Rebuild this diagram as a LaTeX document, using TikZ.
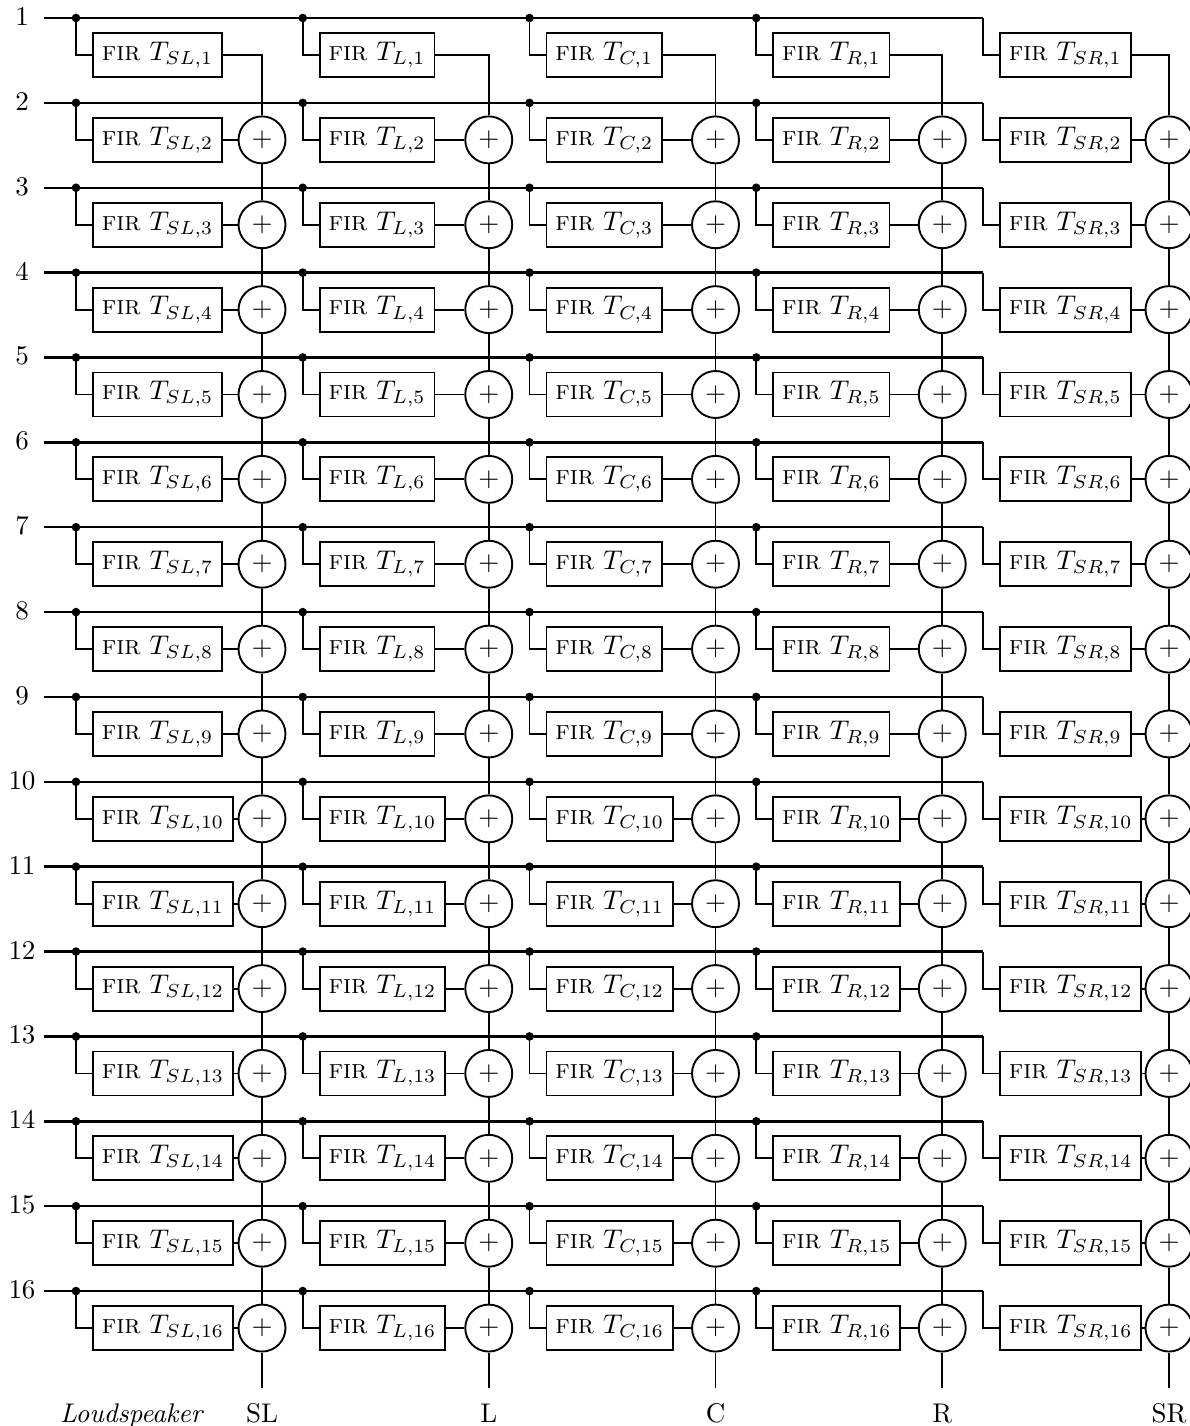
\documentclass[tikz,border=0pt]{standalone}
\begin{document}
\begin{tikzpicture}[x=0.3704pt,y=-0.3704pt,
  bus/.style={line width=0.9pt},
  wire/.style={line width=0.7pt},
  firbox/.style={draw, line width=0.7pt, anchor=west, minimum height=16.3pt, inner xsep=3.3pt, inner ysep=0pt},
  sumnode/.style={draw, circle, line width=0.7pt, minimum size=17.4pt, inner sep=0pt},
  jdot/.style={circle, fill, inner sep=0pt, minimum size=3.2pt},
  rowlab/.style={anchor=base},
  spklab/.style={anchor=base}]
\useasboundingbox (0,0) rectangle (1190,1426);
% input buses
\foreach \i in {1,...,16} {
  \pgfmathsetmacro\yy{18+(\i-1)*84.87}
  \node[rowlab] (n\i) at (22,\yy+7.5) {\i};
  \coordinate (bs\i) at (44,\yy);
  \coordinate (be\i) at (983,\yy);
  \draw[bus] (bs\i) -- (be\i);
}
% columns
\foreach \c [count=\k from 0] in {SL,L,C,R,SR} {
  \pgfmathsetmacro\xo{226.75*\k}
  \foreach \i in {1,...,16} {
    \pgfmathsetmacro\yy{18+(\i-1)*84.87}
    \pgfmathsetmacro\yb{\yy+37}
    \coordinate (d\c\i) at (76+\xo,\yy);
    \node[firbox] (f\c\i) at (92+\xo,\yb) {\textsc{fir} $T_{\c,\i}$};
    \draw[wire] (d\c\i) |- (f\c\i.west);
    \ifnum\k<4 \node[jdot] at (d\c\i) {};\fi
    \ifnum\i>1
      \node[sumnode] (s\c\i) at (262+\xo,\yb) {$+$};
      \draw[wire] (f\c\i.east) -- (s\c\i.west);
    \fi
  }
  \draw[wire] (f\c1.east) -| (s\c2.north);
  \foreach \i in {3,...,16} {
    \pgfmathtruncatemacro\pr{\i-1}
    \draw[wire] (s\c\pr.south) -- (s\c\i.north);
  }
  \coordinate (o\c) at (262+\xo,1388);
  \draw[wire] (s\c16.south) -- (o\c);
  \node[spklab] (lab\c) at (262+\xo,1422) {\c};
}
\node[spklab] (spk) at (132,1422) {\textit{Loudspeaker}};
\end{tikzpicture}
\end{document}
